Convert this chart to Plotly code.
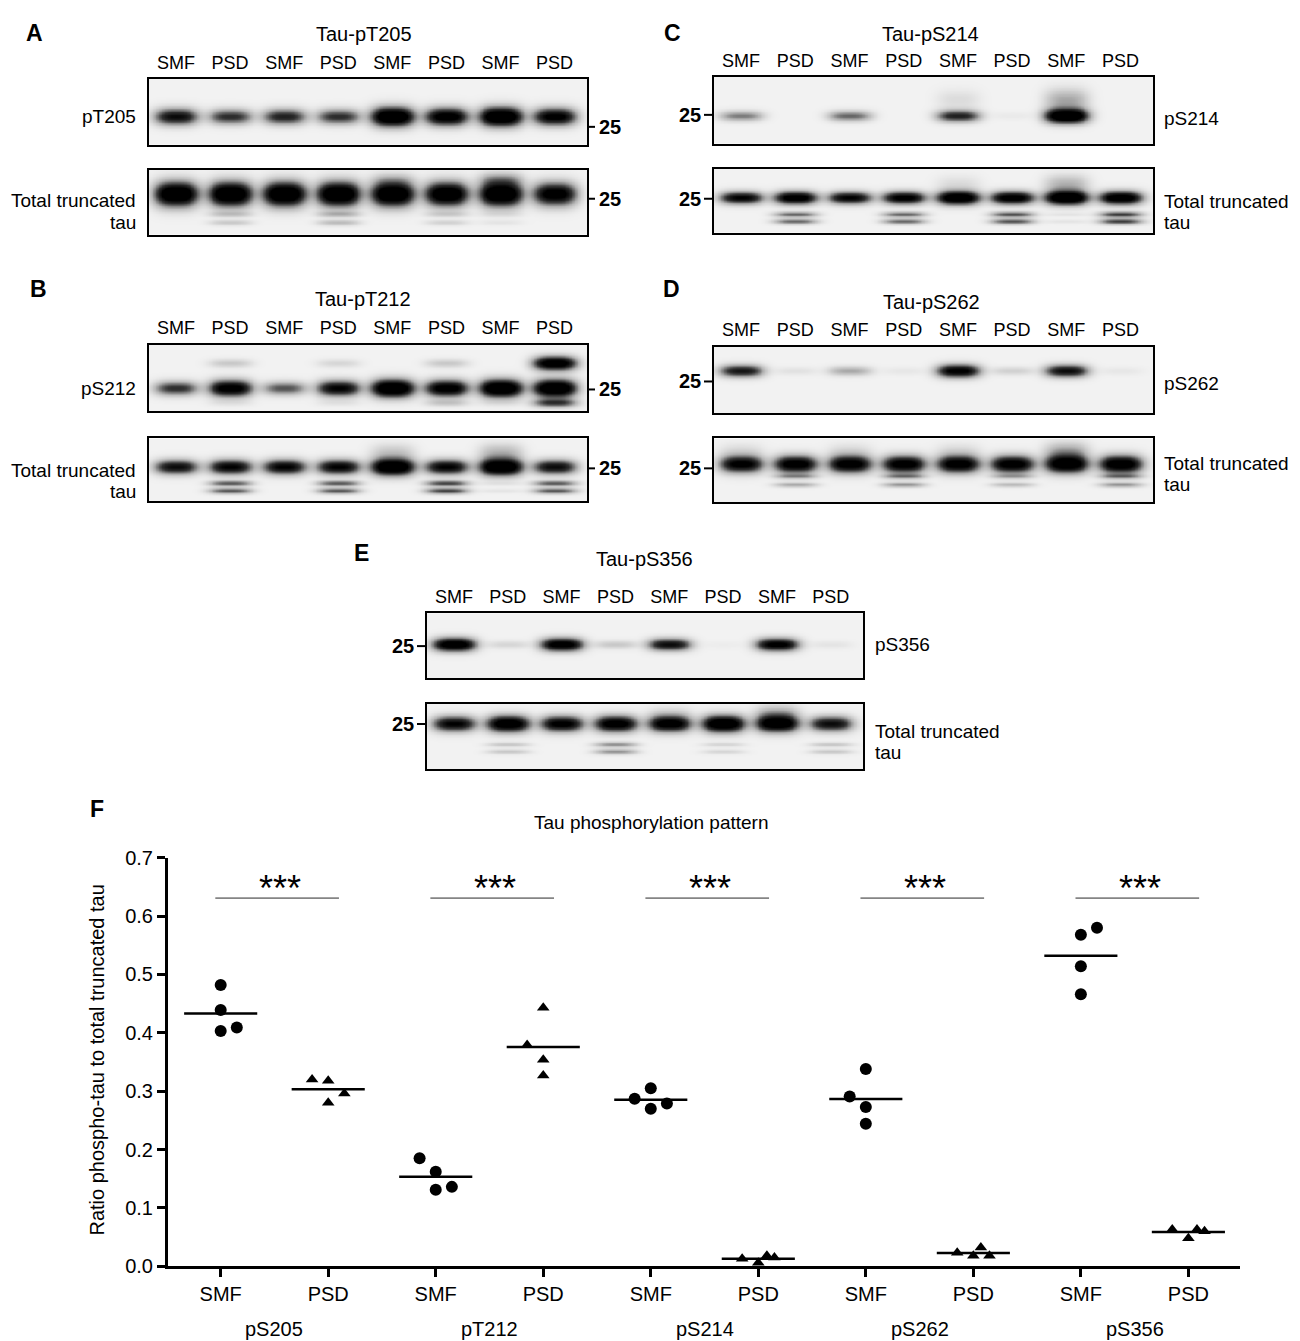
import numpy as np
import plotly.graph_objects as go

FONT = "Liberation Sans"
W, H = 1292, 1341

# ---- western blot band intensities (0 = no band, 1 = saturated), lanes SMF/PSD x4
lanes = ["SMF", "PSD", "SMF", "PSD", "SMF", "PSD", "SMF", "PSD"]

pT205_phos = [0.70, 0.55, 0.60, 0.55, 1.00, 0.85, 1.00, 0.80]
pT205_total = [1.00, 1.00, 1.00, 1.00, 1.00, 0.95, 1.00, 0.85]
pT205_total_low = [0.00, 0.15, 0.00, 0.20, 0.00, 0.12, 0.05, 0.00]
pT205_total_smear = [0.00, 0.00, 0.00, 0.00, 0.10, 0.00, 0.20, 0.00]

pS214_phos = [0.35, 0.00, 0.40, 0.00, 0.60, 0.03, 1.00, 0.00]
pS214_phos_smear = [0.00, 0.00, 0.00, 0.00, 0.08, 0.00, 0.25, 0.00]
pS214_total = [0.75, 0.85, 0.75, 0.80, 0.95, 0.85, 1.00, 0.90]
pS214_total_low = [0.00, 0.40, 0.00, 0.40, 0.00, 0.45, 0.05, 0.50]
pS214_total_smear = [0.00, 0.00, 0.00, 0.00, 0.08, 0.00, 0.22, 0.00]

pT212_phos = [0.55, 0.85, 0.45, 0.75, 1.00, 0.85, 1.00, 1.00]
pT212_phos_up = [0.00, 0.15, 0.00, 0.10, 0.00, 0.15, 0.00, 0.90]
pT212_phos_low = [0.00, 0.05, 0.00, 0.05, 0.00, 0.15, 0.05, 0.50]
pT212_total = [0.70, 0.75, 0.75, 0.75, 1.00, 0.75, 1.00, 0.70]
pT212_total_low = [0.00, 0.45, 0.00, 0.45, 0.00, 0.50, 0.05, 0.45]
pT212_total_smear = [0.00, 0.00, 0.00, 0.00, 0.15, 0.00, 0.20, 0.00]

pS262_phos = [0.65, 0.06, 0.25, 0.04, 0.80, 0.12, 0.70, 0.04]
pS262_total = [0.80, 0.85, 0.85, 0.85, 0.85, 0.85, 0.90, 0.90]
pS262_total_low = [0.00, 0.25, 0.00, 0.30, 0.00, 0.20, 0.00, 0.30]
pS262_total_smear = [0.08, 0.00, 0.08, 0.00, 0.08, 0.00, 0.25, 0.00]

pS356_phos = [0.90, 0.10, 0.85, 0.15, 0.70, 0.02, 0.80, 0.05]
pS356_total = [0.75, 0.90, 0.80, 0.85, 0.85, 0.95, 0.90, 0.70]
pS356_total_low = [0.00, 0.15, 0.00, 0.30, 0.00, 0.10, 0.00, 0.15]
pS356_total_smear = [0.00, 0.00, 0.00, 0.00, 0.08, 0.00, 0.22, 0.00]

# ---- panel F: ratio phospho-tau / total truncated tau
sites = ["pS205", "pT212", "pS214", "pS262", "pS356"]
groups = ["SMF", "PSD"]
smf_values = [
    [0.482, 0.439, 0.403, 0.409],
    [0.185, 0.162, 0.131, 0.136],
    [0.305, 0.287, 0.279, 0.270],
    [0.338, 0.291, 0.273, 0.244],
    [0.568, 0.580, 0.514, 0.466],
]
psd_values = [
    [0.320, 0.318, 0.296, 0.280],
    [0.443, 0.379, 0.354, 0.327],
    [0.013, 0.006, 0.018, 0.015],
    [0.023, 0.018, 0.032, 0.018],
    [0.063, 0.048, 0.063, 0.060],
]
# horizontal scatter of the dots inside each column
smf_jitter = [
    [0, 0, 0, 0.15],
    [-0.15, 0, 0, 0.15],
    [0, -0.15, 0.15, 0],
    [0, -0.15, 0, 0],
    [0, 0.15, 0, 0],
]
psd_jitter = [
    [-0.15, 0, 0.15, 0],
    [0, -0.15, 0, 0],
    [-0.15, 0, 0.08, 0.15],
    [-0.15, 0, 0.07, 0.15],
    [-0.15, 0, 0.08, 0.15],
]
sig_label = "***"
sig_level = 0.631

# ---- helpers
gx = np.linspace(0.5, 8.6, 300)
gy = np.linspace(0, 1, 90)


def blot_image(rows):
    z = np.zeros((gy.size, gx.size))
    for values, yc, thick in rows:
        for lane, v in enumerate(values, start=1):
            if v <= 0:
                continue
            sy = thick * (0.6 + 0.6 * v)
            bx = np.exp(-(np.abs(gx - lane) / 0.40) ** 3)
            by = np.exp(-((gy - yc) / sy) ** 2)
            z += v * np.outer(by, bx)
    return np.clip(z * 1.35, 0, 1)


# page pixel -> paper fraction (the page sits 8px in from the left edge)
def px(x):
    return (x - 8) / W


def py(y):
    return 1 - ((y - 17) / 0.985) / H


# blot layout: box in pixels, band rows (values, centre, thickness), 25 kDa mark
blots = [
    dict(box=(149, 587, 77, 143), top=True, mark=125, side="right",
         rows=[(pT205_phos, 0.43, 0.12)]),
    dict(box=(149, 587, 168, 233), top=False, mark=197, side="right",
         rows=[(pT205_total, 0.63, 0.155), (pT205_total_low, 0.32, 0.06),
               (pT205_total_low, 0.19, 0.06), (pT205_total_smear, 0.86, 0.15)]),
    dict(box=(714, 1153, 75, 142), top=True, mark=113, side="left",
         rows=[(pS214_phos, 0.42, 0.09), (pS214_phos_smear, 0.66, 0.22)]),
    dict(box=(714, 1153, 167, 231), top=False, mark=197, side="left",
         rows=[(pS214_total, 0.55, 0.09), (pS214_total_low, 0.29, 0.05),
               (pS214_total_low, 0.18, 0.05), (pS214_total_smear, 0.76, 0.2)]),
    dict(box=(149, 587, 343, 410), top=True, mark=388, side="right",
         rows=[(pT212_phos, 0.35, 0.11), (pT212_phos_up, 0.725, 0.09),
               (pT212_phos_low, 0.13, 0.07)]),
    dict(box=(149, 587, 437, 500), top=False, mark=467, side="right",
         rows=[(pT212_total, 0.55, 0.11), (pT212_total_low, 0.29, 0.05),
               (pT212_total_low, 0.17, 0.05), (pT212_total_smear, 0.78, 0.2)]),
    dict(box=(714, 1153, 345, 412), top=True, mark=380, side="left",
         rows=[(pS262_phos, 0.64, 0.09)]),
    dict(box=(714, 1153, 437, 501), top=False, mark=467, side="left",
         rows=[(pS262_total, 0.60, 0.12), (pS262_total_low, 0.41, 0.05),
               (pS262_total_low, 0.28, 0.05), (pS262_total_smear, 0.8, 0.2)]),
    dict(box=(427, 863, 612, 677), top=True, mark=645, side="left",
         rows=[(pS356_phos, 0.52, 0.09)]),
    dict(box=(427, 863, 703, 768), top=False, mark=723, side="left",
         rows=[(pS356_total, 0.70, 0.11), (pS356_total_low, 0.38, 0.05),
               (pS356_total_low, 0.27, 0.05), (pS356_total_smear, 0.86, 0.18)]),
]

fig = go.Figure()
shapes = []
annotations = []
axes = {}

blot_colors = [[0, "#f2f2f2"], [0.3, "#b4b4b4"], [0.7, "#333333"], [1, "#000000"]]

for i, b in enumerate(blots, start=1):
    xa = "x" if i == 1 else f"x{i}"
    ya = "y" if i == 1 else f"y{i}"
    x0, x1, y0, y1 = b["box"]
    fig.add_trace(go.Heatmap(
        x=gx, y=gy, z=blot_image(b["rows"]), xaxis=xa, yaxis=ya,
        colorscale=blot_colors, zmin=0, zmax=1, showscale=False,
        zsmooth="best", hoverinfo="skip",
    ))
    axes["xaxis" if i == 1 else f"xaxis{i}"] = dict(
        domain=[px(x0), px(x1)], range=[0.5, 8.6], anchor=ya,
        showline=True, mirror=True, linecolor="black", linewidth=2,
        showgrid=False, zeroline=False, ticks="outside", ticklen=1,
        tickcolor="rgba(0,0,0,0)",
        tickvals=list(range(1, 9)), ticktext=lanes, side="top",
        showticklabels=b["top"], tickfont=dict(size=18, color="black"),
    )
    axes["yaxis" if i == 1 else f"yaxis{i}"] = dict(
        domain=[py(y1), py(y0)], range=[0, 1], anchor=xa,
        showline=True, mirror=True, linecolor="black", linewidth=2,
        showgrid=False, zeroline=False, showticklabels=False, ticks="",
    )
    # 25 kDa marker
    m = py(b["mark"])
    if b["side"] == "right":
        shapes.append(dict(type="line", xref="paper", yref="paper",
                           x0=px(x1), x1=px(x1 + 8), y0=m, y1=m,
                           line=dict(color="black", width=2)))
        annotations.append(dict(text="<b>25</b>", x=px(x1 + 10), y=m,
                                xanchor="left", yanchor="middle", font=dict(size=20)))
    else:
        shapes.append(dict(type="line", xref="paper", yref="paper",
                           x0=px(x0 - 10), x1=px(x0), y0=m, y1=m,
                           line=dict(color="black", width=2)))
        annotations.append(dict(text="<b>25</b>", x=px(x0 - 11), y=m,
                                xanchor="right", yanchor="middle", font=dict(size=20)))

# panel letters (top row pinned to the page top), blot titles and row labels
for letter, lx in [("A", 35), ("C", 673)]:
    annotations.append(dict(text=f"<b>{letter}</b>", x=px(lx), y=1, borderpad=0,
                            xanchor="center", yanchor="top", font=dict(size=23)))
for letter, lx, ly in [("B", 38, 287), ("D", 671, 287), ("E", 361, 552), ("F", 97, 808)]:
    annotations.append(dict(text=f"<b>{letter}</b>", x=px(lx), y=py(ly),
                            xanchor="center", yanchor="middle", font=dict(size=23)))

for title, tx, ty in [("Tau-pT205", 364, 32), ("Tau-pS214", 930, 32),
                      ("Tau-pT212", 363, 297), ("Tau-pS262", 931, 300),
                      ("Tau-pS356", 644, 558)]:
    annotations.append(dict(text=title, x=px(tx), y=py(ty),
                            xanchor="center", yanchor="middle", font=dict(size=20)))

row_labels = [
    ("pT205", 138, 115, "right"),
    ("Total truncated", 138, 199, "right"),
    ("tau", 138, 221, "right"),
    ("pS212", 138, 387, "right"),
    ("Total truncated", 138, 469, "right"),
    ("tau", 138, 490, "right"),
    ("pS214", 1162, 117, "left"),
    ("Total truncated", 1162, 200, "left"),
    ("tau", 1162, 221, "left"),
    ("pS262", 1162, 382, "left"),
    ("Total truncated", 1162, 462, "left"),
    ("tau", 1162, 483, "left"),
    ("pS356", 873, 643, "left"),
    ("Total truncated", 873, 731, "left"),
    ("tau", 873, 752, "left"),
]
for text, lx, ly, anchor in row_labels:
    annotations.append(dict(text=text, x=px(lx), y=py(ly), xanchor=anchor,
                            yanchor="middle", font=dict(size=19)))

# ---- panel F scatter
fx, fy = "x11", "y11"
for k, site in enumerate(sites):
    for g, (vals, jit, sym) in enumerate([(smf_values[k], smf_jitter[k], "circle"),
                                           (psd_values[k], psd_jitter[k], "triangle-up")]):
        pos = 2 * k + g
        fig.add_trace(go.Scatter(
            x=[pos + j for j in jit], y=vals, mode="markers", xaxis=fx, yaxis=fy,
            marker=dict(symbol=sym, size=12 if sym == "circle" else 11, color="black"),
            cliponaxis=False, showlegend=False, hoverinfo="y",
        ))
        mean = float(np.mean(vals))
        fig.add_trace(go.Scatter(
            x=[pos - 0.34, pos + 0.34], y=[mean, mean], mode="lines", xaxis=fx, yaxis=fy,
            line=dict(color="black", width=2.5), showlegend=False, hoverinfo="skip",
            cliponaxis=False,
        ))
    fig.add_trace(go.Scatter(
        x=[2 * k - 0.05, 2 * k + 1.1], y=[sig_level, sig_level], mode="lines",
        xaxis=fx, yaxis=fy, line=dict(color="#858585", width=1.8),
        showlegend=False, hoverinfo="skip",
    ))
    annotations.append(dict(text=sig_label, x=2 * k + 0.55, y=sig_level + 0.016,
                            xref=fx, yref=fy, showarrow=False,
                            yanchor="middle", font=dict(size=36)))
    annotations.append(dict(text=site, x=2 * k + 0.5, y=py(1329), xref=fx,
                            yref="paper", showarrow=False, yanchor="middle",
                            font=dict(size=20)))

annotations.append(dict(text="Tau phosphorylation pattern", x=px(651), y=py(822),
                        xanchor="center", yanchor="middle", font=dict(size=19)))
annotations.append(dict(text="Ratio phospho-tau to total truncated tau", x=px(97),
                        y=py(1060), textangle=-90, xanchor="center", yanchor="middle",
                        font=dict(size=20)))

axes["xaxis11"] = dict(
    domain=[px(168), px(1240)], range=[-0.49, 9.48], anchor="y11",
    tickvals=list(range(10)), ticktext=groups * 5,
    ticks="outside", ticklen=8, tickwidth=2.5, tickcolor="black",
    showline=True, linecolor="black", linewidth=3,
    showgrid=False, zeroline=False, tickfont=dict(size=20, color="black"),
)
axes["yaxis11"] = dict(
    domain=[py(1266), py(857)], range=[0, 0.7], anchor="x11", dtick=0.1,
    tickformat=".1f", ticks="outside", ticklen=8, tickwidth=2.5, tickcolor="black",
    showline=True, linecolor="black", linewidth=3,
    showgrid=False, zeroline=False, tickfont=dict(size=20, color="black"),
)

for a in annotations:
    a.setdefault("xref", "paper")
    a.setdefault("yref", "paper")
    a.setdefault("showarrow", False)
    a.setdefault("font", dict(size=18))
    a["font"].setdefault("color", "black")

fig.update_layout(
    width=W, height=H, margin=dict(l=0, r=0, t=0, b=0),
    paper_bgcolor="white", plot_bgcolor="white",
    font=dict(family=FONT, color="black", size=18),
    showlegend=False, shapes=shapes, annotations=annotations,
    **axes,
)

fig.write_html("out.html")
